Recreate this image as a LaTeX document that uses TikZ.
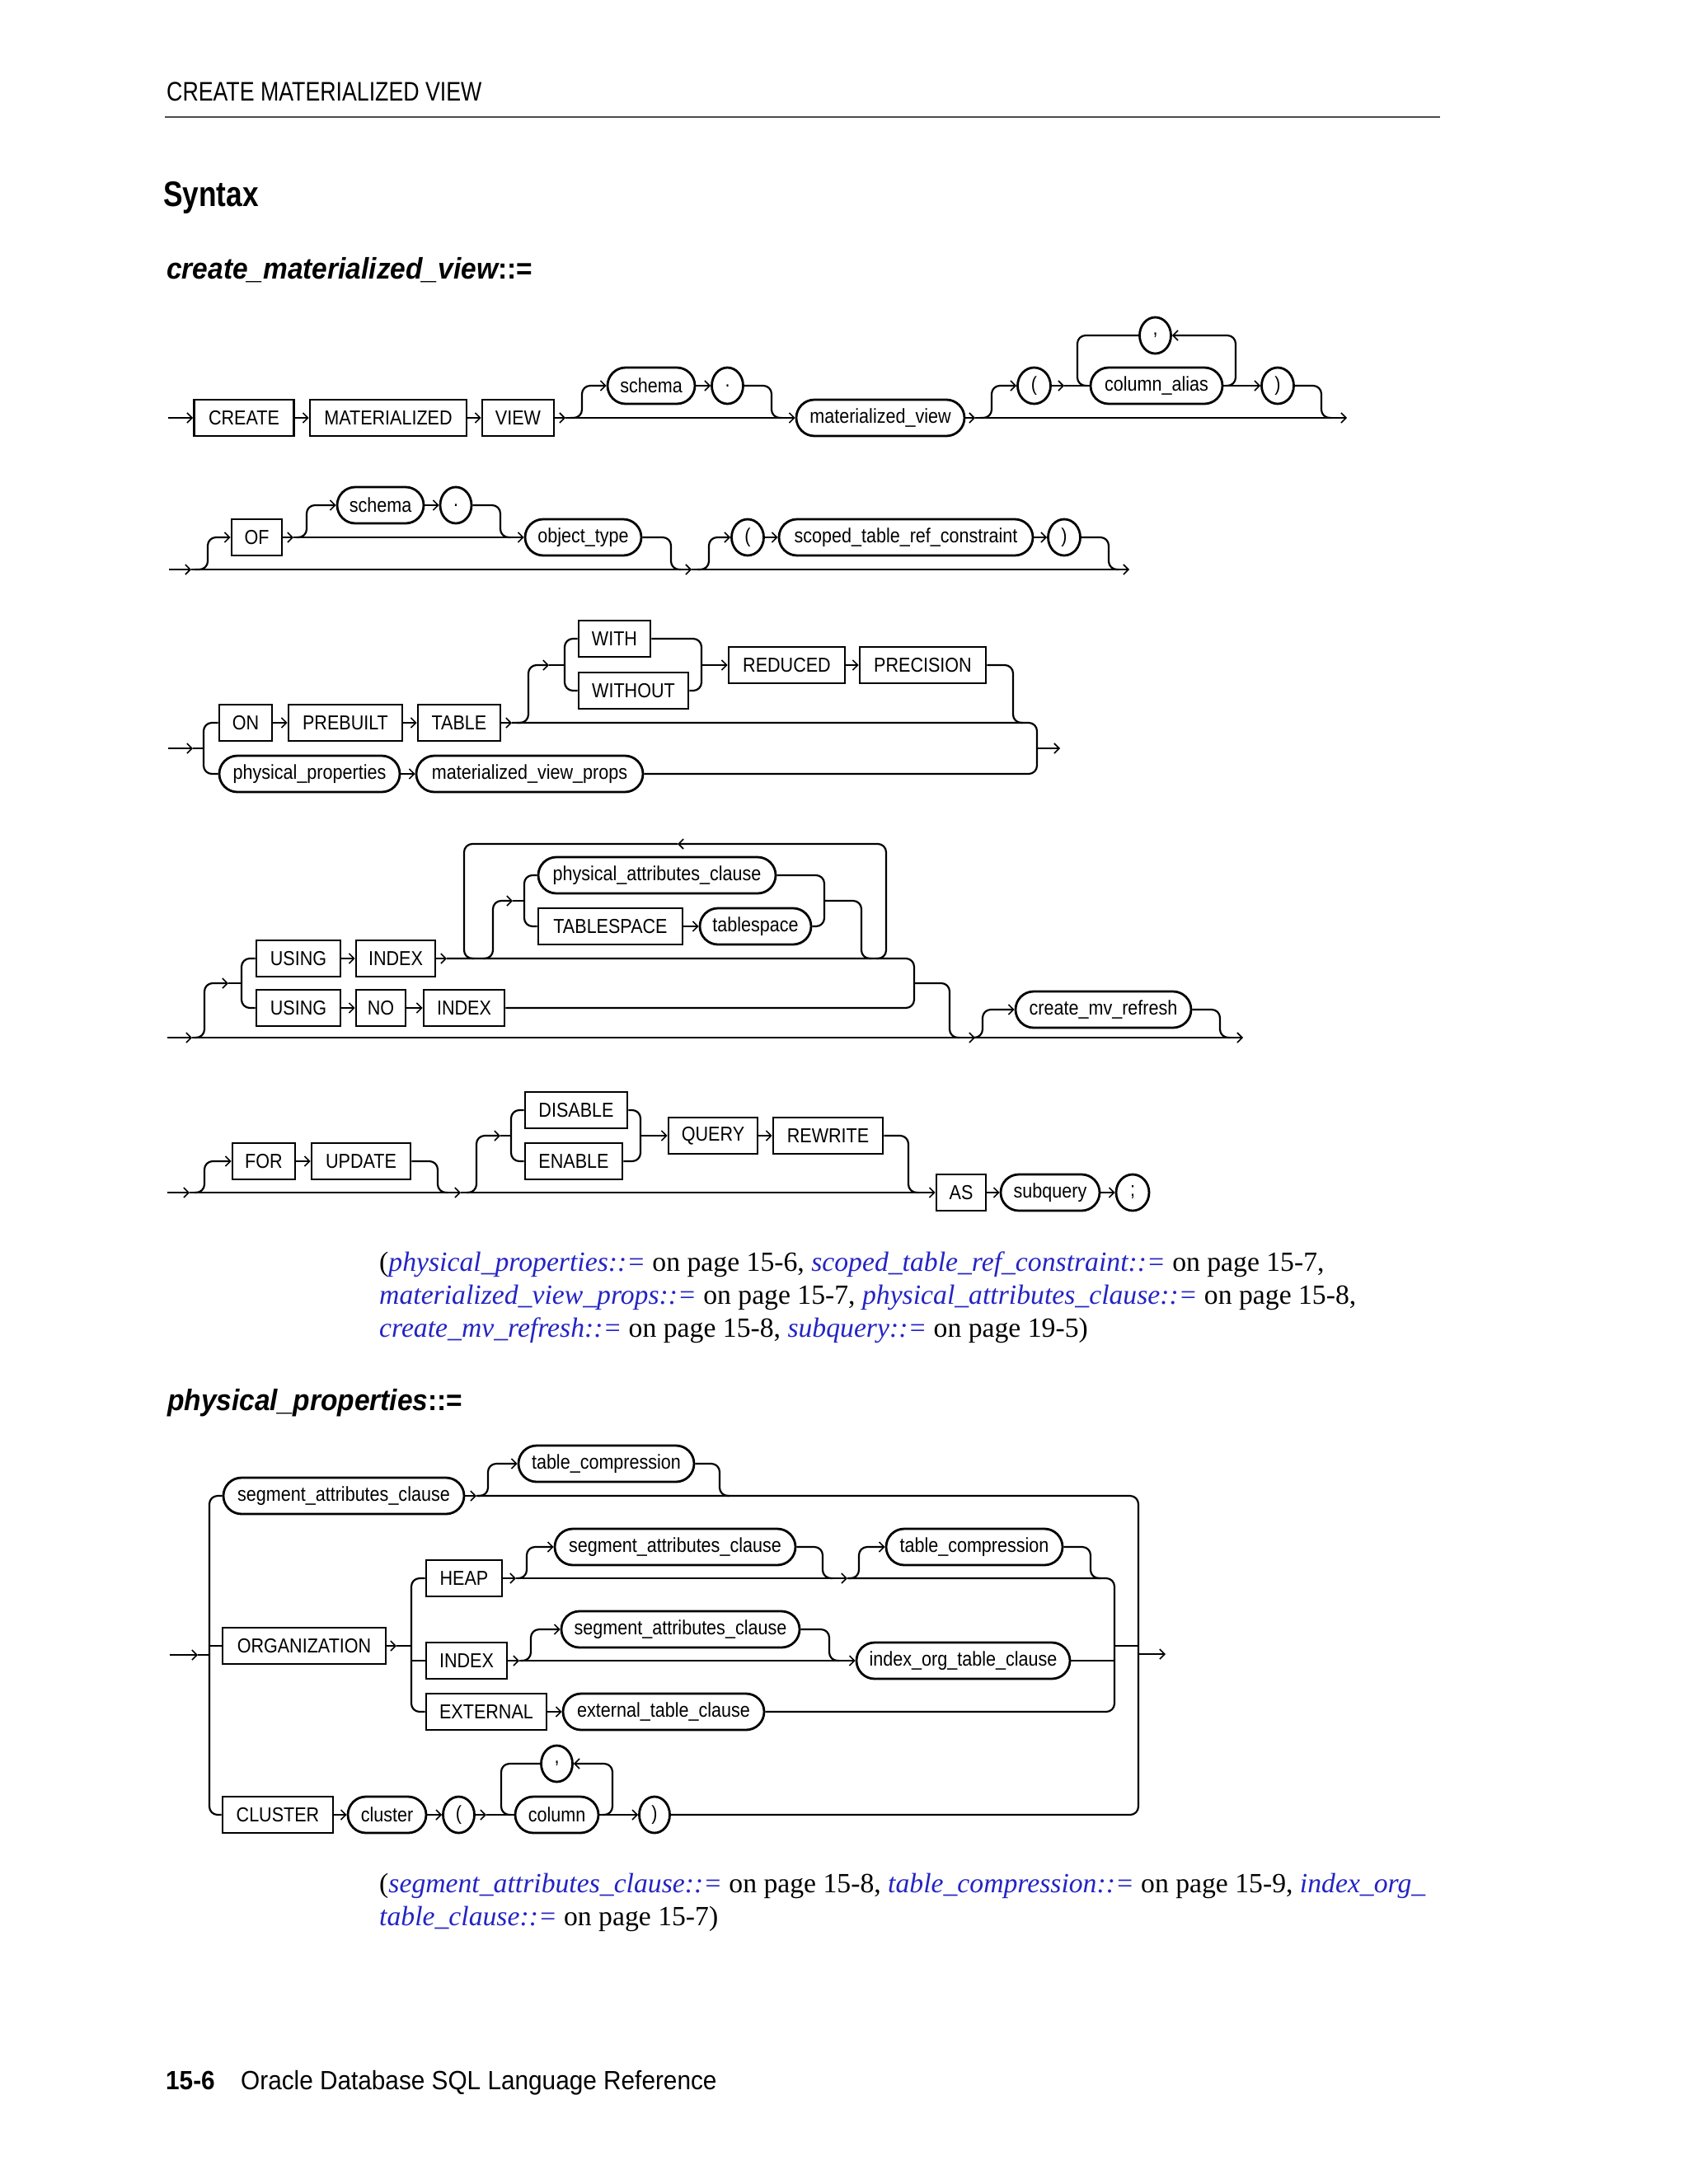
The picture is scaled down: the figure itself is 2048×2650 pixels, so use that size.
\documentclass[tikz,border=0pt]{standalone}
\usepackage{fontspec}
\usetikzlibrary{arrows.meta,shapes.misc,shapes.geometric}
\newfontfamily\hvd[FakeStretch=0.93]{Liberation Sans}
\newfontfamily\hvl[FakeStretch=0.88]{Liberation Sans}
\newfontfamily\hvn[FakeStretch=0.82]{Liberation Sans}
\newfontfamily\srf{Liberation Serif}
\definecolor{lnk}{RGB}{36,36,196}
\newcommand\lk[1]{\textcolor{lnk}{\itshape #1}}
\newcommand\dlab{\hvl\fontsize{24.5}{24.5}\selectfont}
\newcommand\reffont{\srf\fontsize{33.7}{35}\selectfont}
\begin{document}
\begin{tikzpicture}[x=1pt,y=-1pt,
 rail/.style={line width=2.2pt, rounded corners=10pt},
 ar/.style={-{Straight Barb[length=6pt,width=12pt,line width=1.6pt]}},
 kw/.style={draw, line width=2.8pt, rectangle, minimum height=44pt, inner sep=0pt, font=\dlab},
 nt/.style={draw, line width=2.8pt, rounded rectangle, minimum height=44pt, inner sep=0pt, font=\dlab},
 tok/.style={draw, line width=2.8pt, ellipse, minimum height=44pt, inner sep=0pt, font=\dlab},
 txt/.style={anchor=base west, inner sep=0pt},
]
\fill[white] (0,0) rectangle (2048,2650);
\useasboundingbox (0,0) rectangle (2048,2650);

% ---------- page texts ----------
\node[txt] (hdr) at (202,122) {\hvn\fontsize{32.6}{34}\selectfont CREATE MATERIALIZED VIEW};
\draw[line width=2.4pt, black!70] (200,142) -- (1747,142);
\node[txt] (syn) at (198,250) {\hvn\bfseries\fontsize{43}{45}\selectfont Syntax};
\node[txt] (t1) at (202,338) {\hvd\fontsize{36}{38}\selectfont\bfseries\itshape create\_materialized\_view\upshape::=};
\node[txt] (t2) at (203,1711) {\hvd\fontsize{36}{38}\selectfont\bfseries\itshape physical\_properties\upshape::=};

\node[txt] (r1) at (460,1542) {\reffont (\lk{physical\_properties::=} on page 15-6, \lk{scoped\_table\_ref\_constraint::=} on page 15-7,};
\node[txt] (r2) at (460,1582) {\reffont \lk{materialized\_view\_props::=} on page 15-7, \lk{physical\_attributes\_clause::=} on page 15-8,};
\node[txt] (r3) at (460,1622) {\reffont \lk{create\_mv\_refresh::=} on page 15-8, \lk{subquery::=} on page 19-5)};
\node[txt] (r4) at (460,2296) {\reffont (\lk{segment\_attributes\_clause::=} on page 15-8, \lk{table\_compression::=} on page 15-9, \lk{index\_org\_}};
\node[txt] (r5) at (460,2336) {\reffont \lk{table\_clause::=} on page 15-7)};

\node[txt] (f1) at (201,2535) {\hvd\fontsize{32}{34}\selectfont\bfseries 15-6};
\node[txt] (f2) at (292,2535) {\hvd\fontsize{32}{34}\selectfont Oracle Database SQL Language Reference};

% ---------- row 1 ----------
\node[kw,minimum width=121pt] (create) at (296,507) {CREATE};
\node[kw,minimum width=190pt] (mat) at (471,507) {MATERIALIZED};
\node[kw,minimum width=87pt] (view) at (628.5,507) {VIEW};
\node[nt,minimum width=106pt] (schema1) at (790,468) {schema};
\node[tok,minimum width=38pt] (dot1) at (882.5,468) {.};
\node[nt,minimum width=204pt] (mview) at (1068,507) {materialized\_view};
\node[tok,minimum width=40pt] (lp1) at (1254.5,468) {(};
\node[nt,minimum width=160pt] (calias) at (1403,468) {column\_alias};
\node[tok,minimum width=38pt] (comma1) at (1401.5,407) {,};
\node[tok,minimum width=39pt] (rp1) at (1550,468) {)};
\coordinate (s1) at (204,507);
\coordinate (j1) at (686,507);
\coordinate (j1b) at (1183,507);
\coordinate (e1) at (1634,507);
\draw[rail,ar] (s1) -- (create.west);
\draw[rail,ar] (create.east) -- (mat.west);
\draw[rail,ar] (mat.east) -- (view.west);
\draw[rail,ar] (view.east) -- (j1);
\draw[rail,ar] (j1) -- (mview.west);
\draw[rail,ar] (692,507) -- (706,507) -- (706,468) -- (schema1.west);
\draw[rail,ar] (schema1.east) -- (dot1.west);
\draw[rail] (dot1.east) -- (936,468) -- (936,507) -- (948,507);
\draw[rail,ar] (mview.east) -- (j1b);
\draw[rail,ar] (j1b) -- (e1);
\draw[rail,ar] (1189,507) -- (1203,507) -- (1203,468) -- (lp1.west);
\draw[rail,ar] (lp1.east) -- (1291,468);
\draw[rail] (1291,468) -- (calias.west);
\draw[rail,ar] (calias.east) -- (rp1.west);
\draw[rail,ar] (1487,468) -- (1499,468) -- (1499,407) -- (comma1.east);
\draw[rail] (comma1.west) -- (1307,407) -- (1307,468) -- (1319,468);
\draw[rail] (rp1.east) -- (1603,468) -- (1603,507) -- (1615,507);

% ---------- row 2 ----------
\node[kw,minimum width=61pt] (of) at (311.5,652) {OF};
\node[nt,minimum width=105pt] (schema2) at (461.5,613) {schema};
\node[tok,minimum width=38pt] (dot2) at (553,613) {.};
\node[nt,minimum width=141pt] (otype) at (707.5,652) {object\_type};
\node[tok,minimum width=39pt] (lp2) at (907,652) {(};
\node[nt,minimum width=308pt] (stref) at (1099,652) {scoped\_table\_ref\_constraint};
\node[tok,minimum width=39pt] (rp2) at (1291,652) {)};
\coordinate (s2) at (205,691);
\coordinate (j2) at (232,691);
\coordinate (j2b) at (839,691);
\coordinate (e2) at (1370,691);
\draw[rail,ar] (s2) -- (j2);
\draw[rail,ar] (j2) -- (j2b);
\draw[rail,ar] (j2b) -- (e2);
\draw[rail,ar] (236,691) -- (252,691) -- (252,652) -- (of.west);
\draw[rail,ar] (of.east) -- (356,652);
\draw[rail,ar] (356,652) -- (otype.west);
\draw[rail,ar] (360,652) -- (372,652) -- (372,613) -- (schema2.west);
\draw[rail,ar] (schema2.east) -- (dot2.west);
\draw[rail] (dot2.east) -- (607,613) -- (607,652) -- (619,652);
\draw[rail] (otype.east) -- (814,652) -- (814,691) -- (826,691);
\draw[rail,ar] (846,691) -- (860,691) -- (860,652) -- (lp2.west);
\draw[rail,ar] (lp2.east) -- (stref.west);
\draw[rail,ar] (stref.east) -- (rp2.west);
\draw[rail] (rp2.east) -- (1345,652) -- (1345,691) -- (1357,691);

% ---------- row 3 ----------
\node[kw,minimum width=64pt] (on) at (298,877) {ON};
\node[kw,minimum width=138pt] (prebuilt) at (419,877) {PREBUILT};
\node[kw,minimum width=100pt] (table) at (557,877) {TABLE};
\node[kw,minimum width=87pt] (with) at (745.5,775) {WITH};
\node[kw,minimum width=133pt] (without) at (768.5,838) {WITHOUT};
\node[kw,minimum width=141pt] (reduced) at (954.5,807) {REDUCED};
\node[kw,minimum width=153pt] (precision) at (1119.5,807) {PRECISION};
\node[nt,minimum width=219pt] (physp) at (375.5,939) {physical\_properties};
\node[nt,minimum width=275pt] (mvprops) at (642.5,939) {materialized\_view\_props};
\coordinate (s3) at (204,908);
\coordinate (j3) at (234,908);
\coordinate (j3b) at (621,877);
\coordinate (e3) at (1286,908);
\draw[rail,ar] (s3) -- (j3);
\draw[rail] (j3) -- (247,908);
\draw[rail] (on.west) -- (247,877) -- (247,939) -- (physp.west);
\draw[rail,ar] (on.east) -- (prebuilt.west);
\draw[rail,ar] (prebuilt.east) -- (table.west);
\draw[rail,ar] (table.east) -- (j3b);
\draw[rail] (j3b) -- (1258,877) -- (1258,939) -- (mvprops.east);
\draw[rail,ar] (physp.east) -- (mvprops.west);
\draw[rail,ar] (1258,908) -- (e3);
\draw[rail,ar] (627,877) -- (641,877) -- (641,807) -- (666,807);
\draw[rail] (666,807) -- (685,807);
\draw[rail] (with.west) -- (685,775) -- (685,838) -- (without.west);
\draw[rail] (with.east) -- (851,775) -- (851,838) -- (without.east);
\draw[rail,ar] (851,807) -- (reduced.west);
\draw[rail,ar] (reduced.east) -- (precision.west);
\draw[rail] (precision.east) -- (1229,807) -- (1229,877) -- (1241,877);

% ---------- row 4 ----------
\node[kw,minimum width=102pt] (using1) at (362,1163) {USING};
\node[kw,minimum width=96pt] (index1) at (480,1163) {INDEX};
\node[kw,minimum width=102pt] (using2) at (362,1223) {USING};
\node[kw,minimum width=60pt] (no) at (462,1223) {NO};
\node[kw,minimum width=98pt] (index2) at (563,1223) {INDEX};
\node[nt,minimum width=288pt] (pac) at (797,1062) {physical\_attributes\_clause};
\node[kw,minimum width=175pt] (tbsp) at (740.5,1124) {TABLESPACE};
\node[nt,minimum width=135pt] (tbspnt) at (916.5,1124) {tablespace};
\node[nt,minimum width=213pt] (cmvr) at (1338.5,1225) {create\_mv\_refresh};
\coordinate (s4) at (203,1259);
\coordinate (j4) at (233,1259);
\coordinate (j4b) at (1183,1259);
\coordinate (e4) at (1508,1259);
\coordinate (j4c) at (542,1163);
\coordinate (lp4) at (822,1024);
\draw[rail,ar] (s4) -- (j4);
\draw[rail,ar] (j4) -- (j4b);
\draw[rail,ar] (j4b) -- (e4);
\draw[rail,ar] (236,1259) -- (248,1259) -- (248,1193) -- (277,1193);
\draw[rail] (277,1193) -- (293,1193);
\draw[rail] (using1.west) -- (293,1163) -- (293,1223) -- (using2.west);
\draw[rail,ar] (using1.east) -- (index1.west);
\draw[rail,ar] (index1.east) -- (j4c);
\draw[rail] (j4c) -- (1109,1163) -- (1109,1223) -- (index2.east);
\draw[rail,ar] (using2.east) -- (no.west);
\draw[rail,ar] (no.east) -- (index2.west);
\draw[rail] (1109,1193) -- (1152,1193) -- (1152,1259) -- (1164,1259);
\draw[rail,ar] (1063,1163) -- (1075,1163) -- (1075,1024) -- (lp4);
\draw[rail] (lp4) -- (563,1024) -- (563,1163) -- (575,1163);
\draw[rail,ar] (586,1163) -- (598,1163) -- (598,1093) -- (622,1093);
\draw[rail] (622,1093) -- (636,1093);
\draw[rail] (pac.west) -- (636,1062) -- (636,1124) -- (tbsp.west);
\draw[rail] (pac.east) -- (1000,1062) -- (1000,1124) -- (tbspnt.east);
\draw[rail,ar] (tbsp.east) -- (tbspnt.west);
\draw[rail] (1000,1093) -- (1045,1093) -- (1045,1163) -- (1057,1163);
\draw[rail,ar] (1180,1259) -- (1192,1259) -- (1192,1225) -- (cmvr.west);
\draw[rail] (cmvr.east) -- (1480,1225) -- (1480,1259) -- (1492,1259);

% ---------- row 5 ----------
\node[kw,minimum width=76pt] (for) at (320,1409) {FOR};
\node[kw,minimum width=120pt] (update) at (438,1409) {UPDATE};
\node[kw,minimum width=124pt] (disable) at (699,1347) {DISABLE};
\node[kw,minimum width=118pt] (enable) at (696,1409) {ENABLE};
\node[kw,minimum width=108pt] (query) at (865,1378) {QUERY};
\node[kw,minimum width=133pt] (rewrite) at (1004.5,1378) {REWRITE};
\node[kw,minimum width=60pt] (as) at (1166,1447) {AS};
\node[nt,minimum width=120pt] (subq) at (1274,1447) {subquery};
\node[tok,minimum width=40pt] (semi) at (1374,1447) {;};
\coordinate (s5) at (203,1447);
\coordinate (j5) at (230,1447);
\coordinate (j5b) at (559,1447);
\draw[rail,ar] (s5) -- (j5);
\draw[rail,ar] (j5) -- (j5b);
\draw[rail,ar] (j5b) -- (as.west);
\draw[rail,ar] (236,1447) -- (248,1447) -- (248,1409) -- (for.west);
\draw[rail,ar] (for.east) -- (update.west);
\draw[rail] (update.east) -- (531,1409) -- (531,1447) -- (543,1447);
\draw[rail,ar] (566,1447) -- (578,1447) -- (578,1378) -- (607,1378);
\draw[rail] (607,1378) -- (620,1378);
\draw[rail] (disable.west) -- (620,1347) -- (620,1409) -- (enable.west);
\draw[rail] (disable.east) -- (777,1347) -- (777,1409) -- (enable.east);
\draw[rail,ar] (777,1378) -- (query.west);
\draw[rail,ar] (query.east) -- (rewrite.west);
\draw[rail] (rewrite.east) -- (1102,1378) -- (1102,1447) -- (1114,1447);
\draw[rail,ar] (as.east) -- (subq.west);
\draw[rail,ar] (subq.east) -- (semi.west);

% ---------- physical_properties ----------
\node[nt,minimum width=292pt] (sac1) at (417,1815) {segment\_attributes\_clause};
\node[nt,minimum width=213pt] (tc1) at (735.5,1776) {table\_compression};
\node[kw,minimum width=198pt] (org) at (369,1997) {ORGANIZATION};
\node[kw,minimum width=92pt] (heap) at (563,1915) {HEAP};
\node[nt,minimum width=292pt] (sac2) at (819,1877) {segment\_attributes\_clause};
\node[nt,minimum width=214pt] (tc2) at (1182,1877) {table\_compression};
\node[kw,minimum width=98pt] (index3) at (566,2015) {INDEX};
\node[nt,minimum width=289pt] (sac3) at (825.5,1977) {segment\_attributes\_clause};
\node[nt,minimum width=259pt] (iotc) at (1168.5,2015) {index\_org\_table\_clause};
\node[kw,minimum width=146pt] (ext) at (590,2077) {EXTERNAL};
\node[nt,minimum width=244pt] (etc) at (805,2077) {external\_table\_clause};
\node[kw,minimum width=134pt] (cluster) at (337,2202) {CLUSTER};
\node[nt,minimum width=95pt] (clusternt) at (469.5,2202) {cluster};
\node[tok,minimum width=38pt] (lp3) at (556.5,2202) {(};
\node[nt,minimum width=101pt] (column) at (675.5,2202) {column};
\node[tok,minimum width=38pt] (comma3) at (675.5,2140) {,};
\node[tok,minimum width=37pt] (rp3) at (794,2202) {)};
\coordinate (s6) at (206,2008);
\coordinate (j6) at (240,2008);
\coordinate (e6) at (1414,2007);
\coordinate (j6a) at (578,1815);
\coordinate (j6b) at (481,1997);
\coordinate (j6c) at (626,1915);
\coordinate (j6d) at (1028,1915);
\coordinate (j6e) at (630,2015);
\coordinate (j6f) at (590,2202);
\draw[rail,ar] (s6) -- (j6);
\draw[rail] (j6) -- (254,2008);
\draw[rail] (sac1.west) -- (254,1815) -- (254,2202) -- (cluster.west);
\draw[rail] (254,1997) -- (org.west);
\draw[rail,ar] (sac1.east) -- (j6a);
\draw[rail] (j6a) -- (1381,1815) -- (1381,2202) -- (rp3.east);
\draw[rail,ar] (580,1815) -- (592,1815) -- (592,1776) -- (tc1.west);
\draw[rail] (tc1.east) -- (873,1776) -- (873,1815) -- (885,1815);
\draw[rail,ar] (1381,2007) -- (e6);
\draw[rail,ar] (org.east) -- (j6b);
\draw[rail] (j6b) -- (499,1997);
\draw[rail] (heap.west) -- (499,1915) -- (499,2077) -- (ext.west);
\draw[rail] (499,2015) -- (index3.west);
\draw[rail,ar] (heap.east) -- (j6c);
\draw[rail,ar] (j6c) -- (j6d);
\draw[rail] (j6d) -- (1352,1915) -- (1352,2077) -- (etc.east);
\draw[rail] (iotc.east) -- (1352,2015);
\draw[rail] (1352,1997) -- (1381,1997);
\draw[rail,ar] (628,1915) -- (639,1915) -- (639,1877) -- (sac2.west);
\draw[rail] (sac2.east) -- (998,1877) -- (998,1915) -- (1010,1915);
\draw[rail,ar] (1030,1915) -- (1042,1915) -- (1042,1877) -- (tc2.west);
\draw[rail] (tc2.east) -- (1323,1877) -- (1323,1915) -- (1335,1915);
\draw[rail,ar] (index3.east) -- (j6e);
\draw[rail,ar] (j6e) -- (iotc.west);
\draw[rail,ar] (632,2015) -- (644,2015) -- (644,1977) -- (sac3.west);
\draw[rail] (sac3.east) -- (1006,1977) -- (1006,2015) -- (1018,2015);
\draw[rail,ar] (ext.east) -- (etc.west);
\draw[rail,ar] (cluster.east) -- (clusternt.west);
\draw[rail,ar] (clusternt.east) -- (lp3.west);
\draw[rail,ar] (lp3.east) -- (j6f);
\draw[rail] (j6f) -- (column.west);
\draw[rail,ar] (column.east) -- (rp3.west);
\draw[rail,ar] (731,2202) -- (743,2202) -- (743,2140) -- (comma3.east);
\draw[rail] (comma3.west) -- (608,2140) -- (608,2202) -- (620,2202);
\end{tikzpicture}
\end{document}
